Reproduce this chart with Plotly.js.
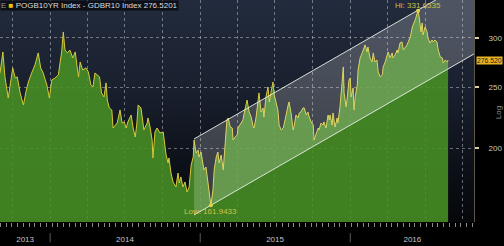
<!DOCTYPE html>
<html>
<head>
<meta charset="utf-8">
<script src="https://cdn.plot.ly/plotly-3.0.1.min.js"></script>
<style>
  html, body { margin: 0; padding: 0; background: #000; width: 504px; height: 246px; overflow: hidden; }
  #bg { position: absolute; left: 0; top: 0; width: 474px; height: 222px;
        background: linear-gradient(to bottom, #222b3d 0%, #19202e 40%, #0c1018 75%, #05070a 100%); }
  #chart { position: absolute; left: 0; top: 0; width: 504px; height: 246px; }
</style>
</head>
<body>
<div id="bg"></div>
<div id="chart"></div>
<script>
// ---- data: POGB10YR Index - GDBR10 Index (spread, bp) ----
const dates = [
'2013-09-01','2013-09-08','2013-09-13','2013-09-21','2013-09-25','2013-10-02','2013-10-08','2013-10-13','2013-10-20','2013-10-24',
'2013-10-28','2013-11-03','2013-11-09','2013-11-17','2013-11-25','2013-12-03','2013-12-09','2013-12-15','2013-12-24','2013-12-30',
'2014-01-05','2014-01-13','2014-01-21','2014-01-25','2014-01-29','2014-02-02','2014-02-06','2014-02-12','2014-02-18','2014-02-25',
'2014-03-03','2014-03-07','2014-03-11','2014-03-15','2014-03-21','2014-03-29','2014-04-04','2014-04-10','2014-04-15','2014-04-20',
'2014-04-26','2014-05-01','2014-05-06','2014-05-12','2014-05-17','2014-05-20','2014-05-25','2014-05-31','2014-06-03','2014-06-08',
'2014-06-13','2014-06-20','2014-06-25','2014-06-30','2014-07-05','2014-07-09','2014-07-17','2014-07-22','2014-07-27','2014-07-31',
'2014-08-03','2014-08-10','2014-08-13','2014-08-17','2014-08-25','2014-08-27','2014-09-01','2014-09-06','2014-09-08','2014-09-13',
'2014-09-18','2014-09-25','2014-10-03','2014-10-05','2014-10-10','2014-10-15','2014-10-17','2014-10-22','2014-10-27','2014-11-03',
'2014-11-08','2014-11-11','2014-11-15','2014-11-20','2014-11-25','2014-11-30','2014-12-05','2014-12-10','2014-12-15','2014-12-17',
'2014-12-22','2014-12-27','2014-12-29','2015-01-03','2015-01-08','2015-01-10','2015-01-15','2015-01-20','2015-01-25','2015-01-27',
'2015-02-01','2015-02-04','2015-02-09','2015-02-13','2015-02-16','2015-02-21','2015-02-26','2015-03-02','2015-03-07','2015-03-10',
'2015-03-15','2015-03-20','2015-03-22','2015-03-27','2015-04-01','2015-04-03','2015-04-10','2015-04-15','2015-04-18','2015-04-23',
'2015-04-25','2015-04-30','2015-05-05','2015-05-10','2015-05-12','2015-05-17','2015-05-22','2015-05-24','2015-05-29','2015-06-03',
'2015-06-05','2015-06-10','2015-06-15','2015-06-18','2015-06-22','2015-06-27','2015-06-30','2015-07-05','2015-07-09','2015-07-12',
'2015-07-17','2015-07-22','2015-07-24','2015-07-29','2015-08-03','2015-08-05','2015-08-10','2015-08-15','2015-08-17','2015-08-22',
'2015-08-27','2015-08-30','2015-09-03','2015-09-08','2015-09-11','2015-09-16','2015-09-20','2015-09-23','2015-09-28','2015-10-03',
'2015-10-05','2015-10-10','2015-10-15','2015-10-17','2015-10-22','2015-10-27','2015-10-29','2015-11-03','2015-11-08','2015-11-11',
'2015-11-13','2015-11-18','2015-11-20','2015-11-25','2015-11-30','2015-12-02','2015-12-07','2015-12-12','2015-12-15','2015-12-17',
'2015-12-22','2015-12-24','2015-12-29','2016-01-01','2016-01-03','2016-01-08','2016-01-10','2016-01-13','2016-01-18','2016-01-20',
'2016-01-25','2016-01-30','2016-02-01','2016-02-06','2016-02-11','2016-02-13','2016-02-18','2016-02-23','2016-02-26','2016-03-01',
'2016-03-06','2016-03-09','2016-03-14','2016-03-19','2016-03-21','2016-03-26','2016-03-31','2016-04-02','2016-04-07','2016-04-12',
'2016-04-14','2016-04-19','2016-04-24','2016-04-26','2016-05-01','2016-05-06','2016-05-09','2016-05-13','2016-05-18','2016-05-21',
'2016-05-26','2016-05-31','2016-06-02','2016-06-07','2016-06-12','2016-06-14','2016-06-17','2016-06-21','2016-06-24','2016-06-26',
'2016-07-01','2016-07-06','2016-07-08','2016-07-13','2016-07-18','2016-07-21','2016-07-25','2016-07-30','2016-08-02','2016-08-07',
'2016-08-12','2016-08-14','2016-08-19','2016-08-24','2016-08-26'
];
const spread = [
263.7,284.9,259.9,240.5,250.4,268.6,258.9,259.9,245.0,240.5,
234.4,245.9,255.1,263.7,271.6,283.9,268.6,263.7,252.3,240.5,
257.0,258.9,261.8,273.6,284.9,306.7,287.0,283.9,287.0,278.7,
284.9,271.6,259.9,274.6,266.6,268.6,264.7,252.3,250.4,263.7,
261.8,259.9,245.0,241.4,254.2,238.7,231.8,230.1,215.3,217.7,
219.3,230.1,219.3,220.2,215.3,220.2,225.9,215.3,208.3,219.3,
234.4,231.8,221.8,213.8,219.3,223.4,216.1,206.0,192.8,212.2,
215.3,211.4,212.2,206.0,194.9,189.3,192.8,182.4,176.5,173.3,
182.4,175.8,179.8,173.3,176.5,170.1,173.3,187.9,193.5,206.0,
196.4,198.6,193.5,197.1,187.9,184.5,186.5,175.8,166.4,161.9433,
171.4,184.5,193.5,197.1,189.3,194.9,184.5,200.8,221.8,223.4,
216.1,215.3,206.0,208.3,209.9,215.3,219.3,221.8,227.6,234.4,
238.7,228.4,224.2,216.1,215.3,224.2,236.1,245.0,228.4,231.8,
224.2,241.4,250.4,237.0,245.0,255.1,243.2,236.1,230.1,217.7,
213.8,215.3,219.3,225.9,234.4,237.0,227.6,213.8,216.1,225.9,
223.4,227.6,228.4,231.8,231.8,225.9,228.4,224.2,220.2,217.7,
206.0,209.9,215.3,213.8,219.3,217.7,220.2,215.3,225.9,221.8,
225.9,217.7,227.6,216.1,223.4,219.3,232.7,254.2,269.6,245.0,
232.7,238.7,257.0,258.9,241.4,249.5,230.1,241.4,252.3,266.6,
278.7,283.9,287.0,292.4,284.9,290.2,278.7,274.6,283.9,274.6,
276.6,264.7,259.9,261.8,269.6,274.6,281.8,284.9,278.7,283.9,
278.7,281.8,287.0,283.9,294.5,295.6,287.0,289.2,292.4,295.6,
301.1,312.4,314.7,320.6,328.9,331.6535,322.9,306.7,317.0,303.3,
312.4,306.7,300.0,294.5,297.8,295.6,297.8,295.6,287.0,279.7,
278.7,273.6,276.6,274.6,276.5201
];
// Extremes and last value
const hiDate = '2016-06-14', hiValue = 331.6535;
const lowDate = '2015-01-27', lowValue = 161.9433;
const lastValue = 276.5201;
// Trend channel (parallel lines through Low and Hi)
const channelDates = ['2014-12-17', '2016-10-28'];
const channelLower = [156.3, 282.8];
const channelUpper = [206.8, 374.2];
// Axis labels
const yTicks = [200, 250, 300];
const yearLabels = ['2013', '2014', '2015', '2016'];
const yearLabelDates = ['2013-11-01', '2014-07-02', '2015-07-02', '2016-05-31'];
const yearStarts = ['2014-01-01', '2015-01-01', '2016-01-01'];

const FONT = '"Liberation Sans", Arial, sans-serif';
const xRange = ['2013-09-01', '2016-10-28'];
const yRange = [Math.log10(152.3), Math.log10(345)];

const traces = [
  { // area
    x: dates, y: spread, type: 'scatter', mode: 'lines',
    line: { color: '#d8c93a', width: 1 },
    fill: 'tozeroy', fillcolor: 'rgba(72,145,36,0.88)',
    hoverinfo: 'skip'
  },
  { // channel fill
    x: [channelDates[0], channelDates[1], channelDates[1], channelDates[0], channelDates[0]],
    y: [channelLower[0], channelLower[1], channelUpper[1], channelUpper[0], channelLower[0]],
    type: 'scatter', mode: 'lines', fill: 'toself',
    fillcolor: 'rgba(255,255,255,0.2)', line: { width: 0 }, hoverinfo: 'skip'
  },
  { x: channelDates, y: channelLower, type: 'scatter', mode: 'lines',
    line: { color: 'rgba(235,240,235,0.9)', width: 1 }, hoverinfo: 'skip' },
  { x: channelDates, y: channelUpper, type: 'scatter', mode: 'lines',
    line: { color: 'rgba(235,240,235,0.9)', width: 1 }, hoverinfo: 'skip' },
  { // hi / low markers
    x: [hiDate, lowDate], y: [hiValue, lowValue], xaxis: 'x2',
    type: 'scatter', mode: 'markers',
    marker: { color: '#e2d343', size: 4 }, hoverinfo: 'skip'
  }
];

const shapes = yearStarts.map(d => ({
  type: 'line', xref: 'x', yref: 'paper', x0: d, x1: d, y0: -0.05, y1: -0.092,
  line: { color: '#5a5a5a', width: 1 }
}));

const layout = {
  width: 504, height: 246,
  margin: { l: 0, r: 30, t: 0, b: 24 },
  paper_bgcolor: 'rgba(0,0,0,0)', plot_bgcolor: 'rgba(0,0,0,0)',
  showlegend: false,
  font: { family: FONT, color: '#c8c8c8', size: 8 },
  xaxis: {
    type: 'date', range: xRange, fixedrange: true,
    tickmode: 'linear', tick0: '2013-10-01', dtick: 'M3',
    showgrid: true, gridcolor: 'rgba(200,200,205,0.5)', griddash: 'dot', gridwidth: 1,
    ticks: '', showticklabels: false, zeroline: false, showline: false,
    minor: { ticks: 'outside', ticklen: 4, tickcolor: '#8a8a8a', tickwidth: 1,
             tick0: '2013-09-02', dtick: 14 * 86400000, showgrid: false }
  },
  xaxis2: {
    type: 'date', overlaying: 'x', anchor: 'y', side: 'bottom', range: xRange,
    tickmode: 'array', tickvals: yearLabelDates, ticktext: yearLabels,
    ticks: '', showgrid: false, zeroline: false, showline: false,
    tickfont: { size: 8, color: '#c4c4c4', family: FONT }, ticklabelstandoff: 11
  },
  yaxis: {
    type: 'log', range: yRange, side: 'right', fixedrange: true,
    tickmode: 'array', tickvals: yTicks, ticktext: yTicks.map(String),
    showgrid: true, gridcolor: 'rgba(200,200,205,0.5)', griddash: 'dot', gridwidth: 1,
    ticks: 'outside', ticklen: 4, tickwidth: 2, tickcolor: '#d8d0a0',
    ticklabelstandoff: 8,
    tickfont: { size: 8, color: '#cfcab0', family: FONT },
    showline: true, linecolor: '#5c574a', linewidth: 1, zeroline: false
  },
  shapes: shapes,
  annotations: [
    { xref: 'paper', yref: 'paper', x: 0, y: 1, xanchor: 'left', yanchor: 'top',
      showarrow: false, align: 'left', bgcolor: 'rgba(8,10,16,0.85)', borderpad: 0,
      text: '<span style="color:#9a9a9a">E</span> <span style="color:#f2c200">■</span> POGB10YR Index - GDBR10 Index 276.5201',
      font: { family: FONT, size: 8, color: '#dcdcdc' } },
    { xref: 'x', yref: 'y', x: hiDate, y: Math.log10(hiValue), yshift: 5,
      xanchor: 'center', yanchor: 'middle', showarrow: false,
      text: 'Hi: ' + hiValue.toFixed(4), font: { family: FONT, size: 8, color: '#cfc04a' } },
    { xref: 'x', yref: 'y', x: lowDate, y: Math.log10(lowValue), yshift: -6,
      xanchor: 'center', yanchor: 'middle', showarrow: false,
      text: 'Low: ' + lowValue.toFixed(4), font: { family: FONT, size: 8, color: '#cfc04a' } },
    { xref: 'paper', yref: 'y', x: 1, xshift: 2, y: Math.log10(lastValue),
      xanchor: 'left', yanchor: 'middle', showarrow: false,
      text: lastValue.toFixed(3), bgcolor: '#eab324', borderpad: 0,
      font: { family: FONT, size: 6.8, color: '#1a1a1a' } },
    { xref: 'paper', yref: 'paper', x: 1, xshift: 24, y: 0.49, xanchor: 'center', yanchor: 'middle',
      showarrow: false, textangle: -90, text: 'Log',
      font: { family: FONT, size: 8, color: '#8c8c8c' } }
  ]
};

Plotly.newPlot('chart', traces, layout, { displayModeBar: false, staticPlot: true });
</script>
</body>
</html>
